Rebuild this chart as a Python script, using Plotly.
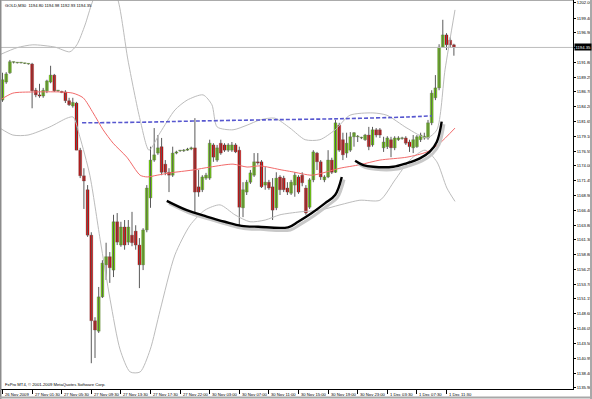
import plotly.graph_objects as go

# ---------------- data ----------------
opens = [1185.3, 1188.4, 1190.0, 1191.8, 1191.7, 1191.7, 1191.6, 1191.5, 1191.5, 1187.0,
         1186.2, 1186.0, 1186.9, 1188.4, 1189.6, 1186.9, 1186.8, 1186.7, 1185.2, 1184.3,
         1184.8, 1176.7, 1172.3, 1169.9, 1162.1, 1147.4, 1145.6, 1151.5, 1157.0, 1158.4,
         1156.1, 1164.4, 1160.4, 1163.5, 1160.9, 1162.1, 1162.8, 1160.4, 1157.0, 1163.0,
         1168.5, 1175.0, 1176.2, 1177.3, 1174.3, 1172.9, 1172.4, 1176.2, 1176.6, 1176.6,
         1176.7, 1176.9, 1177.1, 1170.4, 1169.9, 1171.9, 1171.9, 1177.6, 1175.0, 1177.9,
         1177.6, 1176.7, 1176.7, 1177.6, 1176.7, 1166.8, 1169.5, 1171.2, 1172.4, 1174.7,
         1174.7, 1170.7, 1171.2, 1170.4, 1166.8, 1172.1, 1171.9, 1170.2, 1169.3, 1170.7,
         1172.1, 1172.4, 1170.2, 1166.9, 1171.6, 1176.2, 1174.7, 1171.6, 1172.1, 1175.0,
         1172.9, 1181.0, 1178.5, 1176.2, 1176.7, 1179.0, 1179.0, 1178.8, 1178.5, 1179.3,
         1177.6, 1180.2, 1180.2, 1177.1, 1177.3, 1178.5, 1177.1, 1178.5, 1178.7, 1178.8,
         1178.1, 1177.1, 1177.3, 1178.5, 1178.8, 1178.8, 1181.4, 1185.7, 1187.4, 1194.4,
         1196.5, 1195.6, 1194.80]
highs = [1190.0, 1190.1, 1192.2, 1191.9, 1191.8, 1191.8, 1191.7, 1191.6, 1191.7, 1187.4,
         1188.1, 1187.4, 1188.8, 1191.2, 1189.8, 1187.0, 1186.9, 1187.0, 1185.7, 1185.7,
         1185.0, 1177.1, 1173.6, 1170.7, 1162.6, 1148.0, 1153.2, 1157.8, 1160.8, 1159.2,
         1165.6, 1165.9, 1164.4, 1164.7, 1164.7, 1166.1, 1163.8, 1161.6, 1163.3, 1170.7,
         1177.3, 1180.5, 1179.3, 1178.8, 1175.0, 1173.6, 1177.3, 1176.6, 1176.7, 1176.9,
         1177.1, 1177.3, 1182.2, 1173.3, 1172.4, 1172.8, 1178.5, 1177.9, 1177.6, 1178.5,
         1177.9, 1177.9, 1178.1, 1177.9, 1177.3, 1171.2, 1171.6, 1173.3, 1176.2, 1176.2,
         1175.0, 1173.8, 1171.6, 1171.9, 1172.9, 1172.4, 1172.3, 1171.2, 1171.6, 1172.9,
         1172.4, 1172.9, 1170.7, 1171.9, 1176.7, 1176.4, 1175.0, 1172.4, 1176.7, 1175.4,
         1181.9, 1181.4, 1179.7, 1179.7, 1179.8, 1179.8, 1179.3, 1179.0, 1179.5, 1180.7,
         1180.7, 1180.5, 1180.5, 1179.0, 1179.1, 1179.0, 1179.1, 1179.1, 1179.0, 1179.1,
         1178.5, 1179.3, 1179.3, 1179.7, 1179.7, 1181.9, 1187.0, 1189.6, 1194.9, 1199.1,
         1196.8, 1196.1, 1194.98]
lows = [1185.0, 1188.1, 1189.8, 1191.6, 1191.6, 1191.6, 1191.5, 1191.4, 1183.9, 1185.8,
        1185.7, 1185.7, 1186.5, 1188.2, 1186.7, 1186.7, 1186.5, 1184.8, 1184.3, 1184.0,
        1176.7, 1171.9, 1166.6, 1161.8, 1140.1, 1141.0, 1145.3, 1151.3, 1154.4, 1153.9,
        1154.9, 1160.4, 1160.1, 1159.6, 1160.4, 1160.2, 1159.6, 1153.0, 1156.1, 1162.6,
        1166.8, 1174.7, 1175.9, 1172.4, 1172.4, 1169.5, 1172.1, 1176.0, 1176.4, 1176.4,
        1176.6, 1176.7, 1165.6, 1168.7, 1169.5, 1171.6, 1171.6, 1174.7, 1174.7, 1175.9,
        1176.4, 1176.4, 1176.4, 1176.2, 1163.5, 1165.2, 1169.0, 1170.9, 1172.1, 1174.2,
        1170.2, 1169.9, 1169.9, 1164.7, 1166.4, 1169.0, 1169.5, 1169.0, 1169.0, 1168.7,
        1169.2, 1170.5, 1165.6, 1166.6, 1171.2, 1173.3, 1171.6, 1171.2, 1171.9, 1172.6,
        1172.8, 1176.4, 1175.0, 1175.4, 1176.4, 1177.3, 1178.1, 1178.6, 1178.3, 1176.7,
        1177.3, 1178.9, 1178.8, 1176.4, 1176.9, 1175.5, 1176.7, 1178.3, 1178.5, 1177.6,
        1176.4, 1176.2, 1177.1, 1178.1, 1178.5, 1178.5, 1181.0, 1185.3, 1187.0, 1194.3,
        1193.9, 1194.3, 1192.93]
closes = [1188.8, 1189.8, 1191.9, 1191.8, 1191.7, 1191.7, 1191.6, 1191.5, 1186.9, 1186.2,
          1186.0, 1187.0, 1188.6, 1189.6, 1186.9, 1186.9, 1186.6, 1185.2, 1184.5, 1184.9,
          1176.7, 1172.3, 1171.4, 1162.1, 1147.4, 1145.8, 1151.5, 1157.3, 1158.4, 1156.5,
          1164.4, 1160.9, 1163.5, 1160.4, 1163.5, 1160.8, 1160.4, 1157.0, 1163.0, 1170.2,
          1175.0, 1175.9, 1177.1, 1172.9, 1172.9, 1172.4, 1176.2, 1176.4, 1176.6, 1176.7,
          1176.9, 1177.1, 1169.5, 1169.5, 1172.1, 1172.4, 1177.9, 1175.5, 1177.1, 1176.2,
          1176.7, 1177.6, 1177.6, 1176.4, 1166.9, 1169.9, 1171.2, 1172.8, 1174.7, 1174.5,
          1170.4, 1171.2, 1170.2, 1166.4, 1171.9, 1169.9, 1169.9, 1169.5, 1171.2, 1172.4,
          1169.5, 1171.1, 1165.9, 1171.6, 1176.4, 1174.7, 1172.1, 1172.1, 1175.0, 1172.9,
          1181.4, 1176.7, 1175.9, 1177.9, 1179.0, 1179.7, 1179.1, 1178.9, 1179.3, 1177.3,
          1180.2, 1179.3, 1179.3, 1178.1, 1178.8, 1177.1, 1178.8, 1178.8, 1178.8, 1177.9,
          1177.3, 1178.5, 1179.0, 1179.3, 1179.1, 1181.4, 1186.5, 1187.4, 1194.4, 1196.5,
          1194.8, 1194.8, 1194.35]
bar_index = list(range(len(opens)))

x_tick_bars = [0, 8, 16, 24, 32, 40, 48, 56, 64, 72, 80, 88, 96, 104, 112, 120]
x_tick_labels = ["26 Nov 2009", "27 Nov 01:30", "27 Nov 05:30", "27 Nov 09:30",
                 "27 Nov 13:30", "27 Nov 17:30", "27 Nov 22:00", "30 Nov 03:00",
                 "30 Nov 07:00", "30 Nov 11:00", "30 Nov 15:00", "30 Nov 19:00",
                 "30 Nov 23:00", "1 Dec 03:30", "1 Dec 07:30", "1 Dec 11:30"]
y_tick_labels = ["1135.90", "1138.40", "1140.95", "1143.50", "1146.05", "1148.60",
                 "1151.15", "1153.70", "1156.25", "1158.80", "1161.30", "1163.80",
                 "1166.40", "1168.90", "1171.45", "1174.00", "1176.55", "1179.10",
                 "1181.65", "1184.20", "1186.70", "1189.25", "1191.80", "1194.35",
                 "1196.90", "1199.40", "1202.00"]
current_price = 1194.35
title_text = "GOLD,M30  1194.80 1194.98 1192.93 1194.35"
copyright_text = "FxPro MT4, \u00a9 2001-2009 MetaQuotes Software Corp."

# moving average (middle line, red)
ma_x = [-0.7, 2.8, 8.2, 15.5, 19.0, 21.8, 24.5, 27.2, 29.9, 33.6, 37.2, 39.1, 41.8, 45.3,
        51.5, 56.1, 62.3, 66.1, 69.6, 75.5, 78.2, 83.6, 87.2, 91.2, 96.6, 102.0, 109.3,
        114.7, 118.2, 122.3]
ma_y = [1185.3, 1186.5, 1186.7, 1186.7, 1186.5, 1185.7, 1183.1, 1180.2, 1177.9, 1175.5,
        1172.4, 1172.1, 1172.4, 1172.8, 1173.3, 1173.8, 1174.3, 1173.8, 1174.0, 1173.3,
        1173.0, 1172.4, 1172.9, 1173.6, 1174.2, 1175.0, 1175.5, 1176.4, 1177.9, 1180.5]
# upper / lower bands (grey)
upper_x = [-0.7, 3.9, 8.2, 14.2, 18.2, 20.1, 22.3, 24.2, 26.4, 29.1, 31.2, 33.9, 37.2, 39.6,
           42.6, 46.6, 49.9, 54.2, 56.6, 58.0, 62.3, 66.1, 69.6, 73.6, 77.7, 81.8, 85.8,
           89.9, 93.9, 100.1, 103.9, 109.3, 114.7, 117.4, 119.6, 122.3]
upper_y = [1193.1, 1194.3, 1194.8, 1194.4, 1193.6, 1194.8, 1198.2, 1202.0, 1205.1, 1205.1,
           1202.5, 1192.2, 1181.9, 1176.7, 1179.7, 1183.6, 1185.3, 1186.2, 1184.5, 1180.7,
           1180.2, 1181.0, 1181.9, 1182.2, 1180.5, 1178.5, 1178.5, 1180.2, 1182.7, 1183.1,
           1182.7, 1180.5, 1178.8, 1180.2, 1190.5, 1200.8]
lower_x = [-0.7, 2.8, 6.9, 12.8, 17.4, 19.1, 20.9, 23.6, 26.4, 29.1, 31.8, 34.5, 37.2, 39.9,
           42.6, 46.6, 50.7, 54.7, 58.8, 62.8, 66.9, 71.0, 75.0, 80.4, 85.8, 91.2, 96.6,
           102.0, 106.1, 110.1, 114.2, 117.4, 120.1, 122.3]
lower_y = [1180.5, 1179.3, 1179.3, 1180.7, 1182.2, 1182.4, 1179.0, 1172.4, 1161.3, 1151.0,
           1142.4, 1138.6, 1138.6, 1142.4, 1149.2, 1158.7, 1163.8, 1166.4, 1167.3, 1165.6,
           1164.4, 1164.7, 1165.6, 1166.1, 1166.4, 1167.3, 1168.1, 1168.1, 1171.6, 1175.0,
           1176.7, 1174.7, 1170.2, 1167.9]
# long moving average (blue dashed)
blue_x = [21.5, 37.0, 51.5, 70.0, 91.0, 109.5, 116.0]
blue_y = [1181.4, 1181.5, 1181.7, 1181.9, 1182.1, 1182.4, 1182.6]
# hand-drawn cup curves (black)
cup1_x = [44.4, 49.8, 55.2, 60.1, 64.6, 69.1, 77.2, 79.9, 83.6, 87.2, 89.9, 91.7]
cup1_y = [1168.0, 1166.4, 1165.3, 1164.4, 1163.7, 1163.55, 1163.45, 1164.4, 1165.9,
          1167.6, 1169.0, 1172.1]
cup2_x = [95.3, 97.5, 100.2, 105.6, 109.2, 112.8, 115.5, 117.4, 118.7]
cup2_y = [1174.9, 1174.15, 1173.85, 1173.85, 1174.45, 1175.3, 1176.45, 1178.15, 1181.6]

# ---------------- figure ----------------
GREEN = "#74d80a"
RED = "#dc0000"
FONT = "Liberation Sans"
FS = 4.2

fig = go.Figure()

# wicks
wx, wy = [], []
for i, (h, l) in enumerate(zip(highs, lows)):
    wx += [i, i, None]
    wy += [l, h, None]
fig.add_trace(go.Scatter(x=wx, y=wy, mode="lines", line=dict(color="#5a5a5a", width=1),
                         hoverinfo="skip"))

# bodies
base = [min(o, c) for o, c in zip(opens, closes)]
height = [max(abs(c - o), 0.12) for o, c in zip(opens, closes)]
colors = [GREEN if c >= o else RED for o, c in zip(opens, closes)]
fig.add_trace(go.Bar(x=bar_index, y=height, base=base, width=0.8,
                     marker=dict(color=colors, line=dict(color="#4a4a4a", width=0.3)),
                     hoverinfo="skip"))

# bands and averages
for xs, ys in ((upper_x, upper_y), (lower_x, lower_y)):
    fig.add_trace(go.Scatter(x=xs, y=ys, mode="lines",
                             line=dict(color="#bcbcbc", width=1, shape="spline", smoothing=0.7),
                             hoverinfo="skip"))
fig.add_trace(go.Scatter(x=ma_x, y=ma_y, mode="lines",
                         line=dict(color="#f26a6a", width=1, shape="spline", smoothing=0.7),
                         hoverinfo="skip"))
fig.add_trace(go.Scatter(x=blue_x, y=blue_y, mode="lines",
                         line=dict(color="#5757cf", width=1.6, dash="4px,2px", shape="spline"),
                         hoverinfo="skip"))

# cup curves with soft shadow
for xs, ys in ((cup1_x, cup1_y), (cup2_x, cup2_y)):
    fig.add_trace(go.Scatter(x=[v + 0.6 for v in xs], y=[v - 0.45 for v in ys], mode="lines",
                             line=dict(color="#c8c8c8", width=3, shape="spline"),
                             hoverinfo="skip"))
    fig.add_trace(go.Scatter(x=xs, y=ys, mode="lines",
                             line=dict(color="#000000", width=2.4, shape="spline"),
                             hoverinfo="skip"))

annotations = []
for b, t in zip(x_tick_bars, x_tick_labels):
    annotations.append(dict(x=b + 0.15, y=-0.0129, xref="x", yref="paper", text=t,
                            showarrow=False, xanchor="left", yanchor="middle",
                            font=dict(family=FONT, size=FS, color="#000000")))
annotations.append(dict(x=0.0035, y=0.985, xref="paper", yref="paper", text=title_text,
                        showarrow=False, xanchor="left", yanchor="middle",
                        font=dict(family=FONT, size=FS, color="#000000")))
annotations.append(dict(x=0.0035, y=0.011, xref="paper", yref="paper", text=copyright_text,
                        showarrow=False, xanchor="left", yanchor="middle",
                        font=dict(family=FONT, size=FS, color="#000000")))
annotations.append(dict(x=1.0017, y=current_price, xref="paper", yref="y",
                        text=f"{current_price:.2f}", showarrow=False, xanchor="left",
                        yanchor="middle", bgcolor="#000000", borderpad=0.5,
                        font=dict(family=FONT, size=FS, color="#ffffff")))

shapes = [
    dict(type="line", xref="paper", yref="y", x0=0, x1=1, y0=current_price, y1=current_price,
         line=dict(color="#bdbdbd", width=1)),
    dict(type="line", xref="paper", yref="paper", x0=-0.0009, x1=-0.0009, y0=-0.03, y1=1,
         line=dict(color="#8c8c8c", width=2)),
    dict(type="line", xref="paper", yref="paper", x0=0, x1=1, y0=0.999, y1=0.999,
         line=dict(color="#a0a0a0", width=1)),
    dict(type="line", xref="paper", yref="paper", x0=-0.002, x1=1.035, y0=-0.0218, y1=-0.0218,
         line=dict(color="#a8a8a8", width=2)),
    dict(type="line", xref="paper", yref="paper", x0=1.0315, x1=1.0315, y0=-0.03, y1=1.0,
         line=dict(color="#a8a8a8", width=2)),
]

fig.update_layout(
    width=592, height=399,
    margin=dict(l=1, r=19, t=0, b=10),
    paper_bgcolor="#ffffff", plot_bgcolor="#ffffff",
    showlegend=False, barmode="overlay",
    annotations=annotations, shapes=shapes,
    xaxis=dict(range=[-0.405, 154.19], showgrid=False, zeroline=False, showline=True,
               linecolor="#000000", linewidth=1, ticks="outside", ticklen=4,
               tickcolor="#000000", tickvals=x_tick_bars, showticklabels=False,
               fixedrange=True),
    yaxis=dict(range=[1135.67, 1202.5], side="right", showgrid=False, zeroline=False,
               showline=True, linecolor="#000000", linewidth=1, ticks="outside",
               ticklen=2, tickcolor="#000000",
               tickvals=[float(s) for s in y_tick_labels], ticktext=y_tick_labels,
               tickfont=dict(family=FONT, size=FS, color="#000000"), fixedrange=True),
)

fig.write_html("out.html")
